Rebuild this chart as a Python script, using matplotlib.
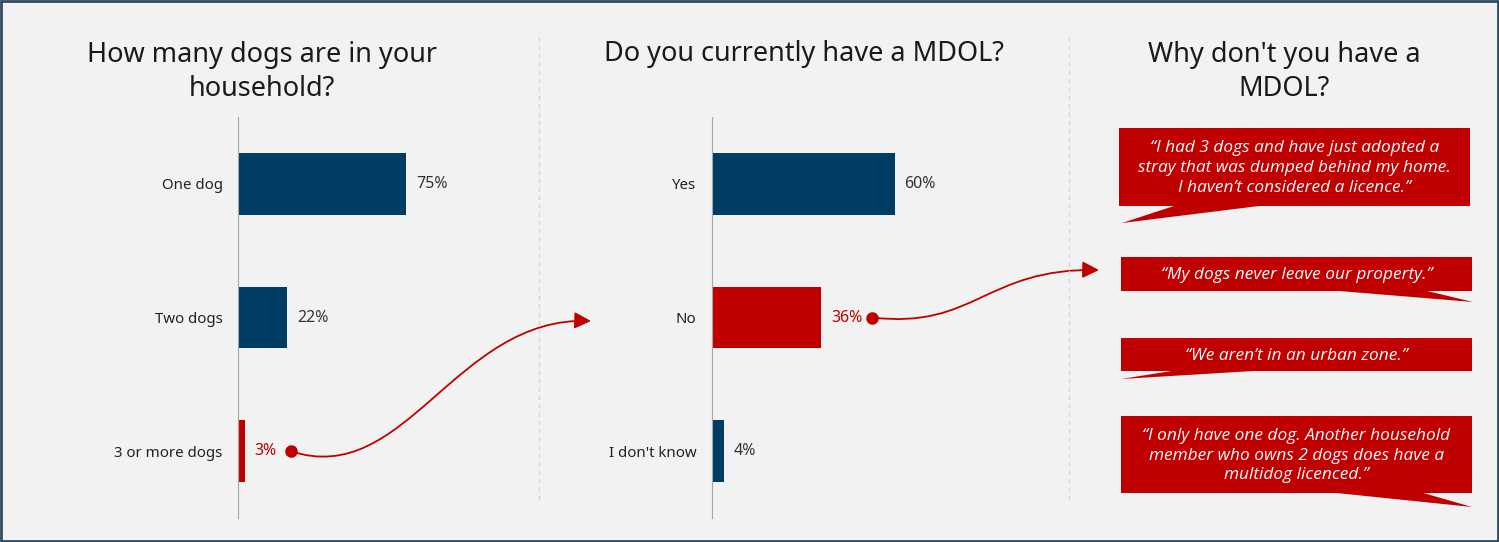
import matplotlib.pyplot as plt
from matplotlib.patches import Rectangle, Polygon, FancyArrowPatch
from matplotlib.path import Path

NAVY = "#003d64"
RED = "#c00000"
BG = "#f2f2f2"

# data
dogs_labels = ["One dog", "Two dogs", "3 or more dogs"]
dogs_values = [75, 22, 3]
dogs_highlight = [False, False, True]

mdol_labels = ["Yes", "No", "I don't know"]
mdol_values = [60, 36, 4]
mdol_highlight = [False, True, False]

titles = ["How many dogs are in your\nhousehold?",
          "Do you currently have a MDOL?",
          "Why don't you have a\nMDOL?"]

quotes = [
    "\u201cI had 3 dogs and have just adopted a\nstray that was dumped behind my home.\nI haven\u2019t considered a licence.\u201d",
    "\u201cMy dogs never leave our property.\u201d",
    "\u201cWe aren\u2019t in an urban zone.\u201d",
    "\u201cI only have one dog. Another household\nmember who owns 2 dogs does have a\nmultidog licenced.\u201d",
]

W, H = 1499, 542
plt.rcParams["font.family"] = ["Noto Sans", "DejaVu Sans"]

fig = plt.figure(figsize=(W / 100, H / 100), dpi=100, facecolor=BG)


def px_axes(left, top, width, height):
    return fig.add_axes([left / W, 1 - (top + height) / H, width / W, height / H])


def bar_panel(ax, labels, values, highlight):
    ys = list(range(len(labels)))
    colors = [RED if h else NAVY for h in highlight]
    ax.barh(ys, values, height=0.46, color=colors)
    ax.set_xlim(0, 100)
    ax.set_ylim(len(labels) - 0.5, -0.5)
    ax.set_yticks(ys, labels, fontsize=10.8, color="#222222")
    ax.tick_params(axis="y", length=0, pad=11)
    ax.set_xticks([])
    for s in ["top", "right", "bottom"]:
        ax.spines[s].set_visible(False)
    ax.spines["left"].set_color("#a6a6a6")
    ax.patch.set_visible(False)
    for y, v, h in zip(ys, values, highlight):
        ax.annotate(f"{v}%", (v, y), xytext=(10, 0), textcoords="offset pixels",
                    va="center", ha="left", fontsize=11.5,
                    color=RED if h else "#333333")


ax1 = px_axes(238, 117, 224, 401)
bar_panel(ax1, dogs_labels, dogs_values, dogs_highlight)
ax2 = px_axes(711.5, 117, 305, 401)
bar_panel(ax2, mdol_labels, mdol_values, mdol_highlight)

# overlay in pixel coordinates for titles, dividers, callouts and arrows
ov = fig.add_axes([0, 0, 1, 1], zorder=5)
ov.set_xlim(0, W)
ov.set_ylim(H, 0)
ov.axis("off")
ov.patch.set_visible(False)


def to_ov(ax, pt):
    return ov.transData.inverted().transform(ax.transData.transform(pt))


ov.add_patch(Rectangle((1, 1), W - 2, H - 2, fill=False, ec="#2e4a62", lw=2, clip_on=False))

for x in [539, 1069]:
    ov.plot([x, x], [37, 500], color="#d4d4d4", lw=1, ls=(0, (3, 3)))

ov.text(262, 72, titles[0], ha="center", va="center", fontsize=19.5, color="#1a1a1a", linespacing=1.28)
ov.text(804, 54, titles[1], ha="center", va="center", fontsize=19.5, color="#1a1a1a")
ov.text(1284, 72, titles[2], ha="center", va="center", fontsize=19.5, color="#1a1a1a", linespacing=1.28)

# callout boxes: (left, top, right, bottom), tail triangle
boxes = [
    ((1119, 128, 1470, 206), [(1177, 205), (1267, 205), (1122, 223)]),
    ((1121, 257, 1472, 291), [(1327, 290), (1423, 290), (1473, 302)]),
    ((1121, 338, 1472, 371), [(1178, 370), (1270, 370), (1121, 379)]),
    ((1121, 416, 1472, 493), [(1327, 492), (1420, 492), (1472, 507)]),
]
for (l, t, r, b), tail in boxes:
    ov.add_patch(Rectangle((l, t), r - l, b - t, color=RED, lw=0))
    ov.add_patch(Polygon(tail, closed=True, color=RED, lw=0))
for ((l, t, r, b), _), q in zip(boxes, quotes):
    ov.text((l + r) / 2, (t + b) / 2 + 1, q, ha="center", va="center", color="white",
            fontsize=12.4, style="italic", family="Open Sans", linespacing=1.3)


def connector(start, c1, c2, end):
    path = Path([start, c1, c2, end], [Path.MOVETO, Path.CURVE4, Path.CURVE4, Path.CURVE4])
    ov.add_patch(FancyArrowPatch(path=path, arrowstyle="-|>,head_length=1.0,head_width=0.5",
                                 mutation_scale=10, color=RED, lw=1.3))
    ov.plot(*start, "o", color=RED, ms=8)


i1 = dogs_highlight.index(True)
s1 = to_ov(ax1, (dogs_values[i1], i1)) + [46, 0]
connector(tuple(s1), (s1[0] + 115, s1[1] + 38), (455, 316), (591, 321))

i2 = mdol_highlight.index(True)
s2 = to_ov(ax2, (mdol_values[i2], i2)) + [51, 0]
connector(tuple(s2), (975, s2[1] + 12), (985, 268), (1099, 270))

fig.savefig("out.png", dpi=100, facecolor=BG)
